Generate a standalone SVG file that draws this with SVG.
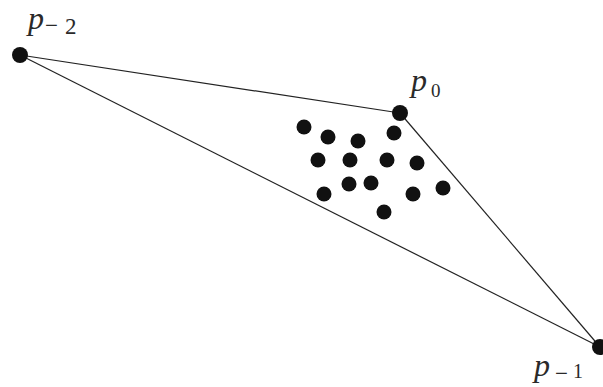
<svg xmlns="http://www.w3.org/2000/svg" width="603" height="387" viewBox="0 0 603 387">
<style>
.edge{stroke:#222;stroke-width:1.2;fill:none}
.pt{fill:#111}
.lbl{font-family:"Liberation Serif",serif;font-style:italic;font-size:32px;fill:#2a2a2a}
.sub{font-family:"Liberation Serif",serif;font-style:normal;font-size:23px;fill:#2a2a2a}
</style>
<rect width="603" height="387" fill="#fff"/>
<g id="connectors">
<line class="edge" x1="20" y1="55" x2="400" y2="113"/>
<line class="edge" x1="20" y1="55" x2="600" y2="347"/>
<line class="edge" x1="400" y1="113" x2="600" y2="347"/>
</g>
<g id="p-2">
<circle class="pt" cx="20" cy="55" r="8"/>
<text class="lbl" x="28" y="29">p</text>
<text class="sub" x="45" y="33">−</text>
<text class="sub" x="65" y="34">2</text>
</g>
<g id="p0">
<circle class="pt" cx="400" cy="113" r="8"/>
<text class="lbl" x="411" y="91">p</text>
<text class="sub" x="431" y="97" style="font-size:19px">0</text>
</g>
<g id="p-1">
<circle class="pt" cx="600" cy="347" r="8"/>
<text class="lbl" x="534" y="376">p</text>
<text class="sub" x="555" y="381">−</text>
<text class="sub" x="573" y="378" style="font-size:20px">1</text>
</g>
<g id="interior">
<circle class="pt" cx="304" cy="127" r="7.5"/>
<circle class="pt" cx="328" cy="137" r="7.5"/>
<circle class="pt" cx="358" cy="141" r="7.5"/>
<circle class="pt" cx="394" cy="133" r="7.5"/>
<circle class="pt" cx="318" cy="160" r="7.5"/>
<circle class="pt" cx="350" cy="160" r="7.5"/>
<circle class="pt" cx="387" cy="160" r="7.5"/>
<circle class="pt" cx="417" cy="163" r="7.5"/>
<circle class="pt" cx="349" cy="184" r="7.5"/>
<circle class="pt" cx="371" cy="183" r="7.5"/>
<circle class="pt" cx="324" cy="194" r="7.5"/>
<circle class="pt" cx="413" cy="194" r="7.5"/>
<circle class="pt" cx="443" cy="188" r="7.5"/>
<circle class="pt" cx="384" cy="212" r="7.5"/>
</g>
</svg>
